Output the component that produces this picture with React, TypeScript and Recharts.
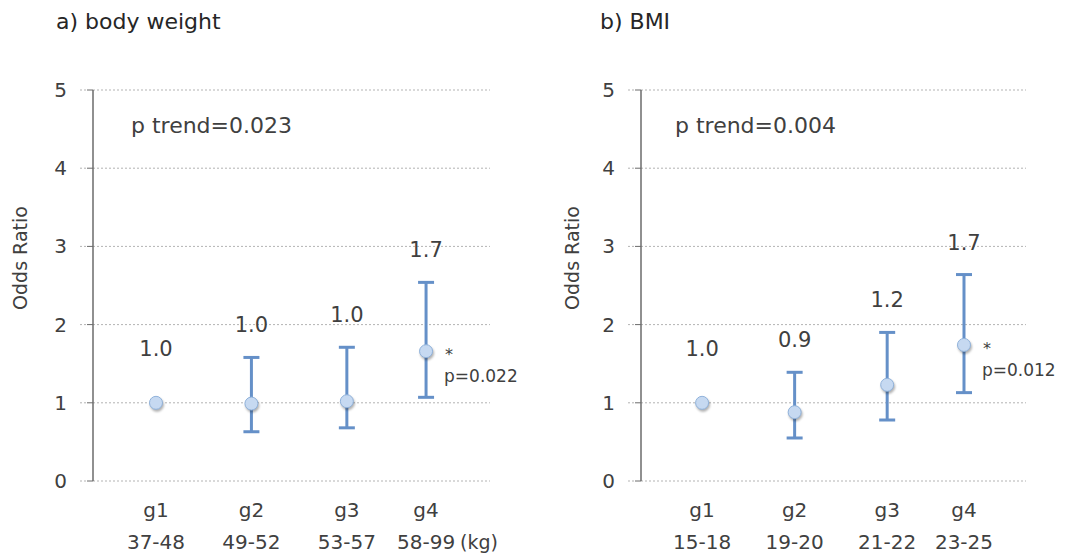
import { ComposedChart, Scatter, ErrorBar, XAxis, YAxis, CartesianGrid } from 'recharts';

const groups = ['g1', 'g2', 'g3', 'g4'];
const groupX = [1, 2, 3, 3.83];
const yTicks = [0, 1, 2, 3, 4, 5];

const weightRanges = ['37-48', '49-52', '53-57', '58-99'];
const weightOR = [1.0, 0.99, 1.02, 1.66];
const weightLow = [null, 0.63, 0.68, 1.07];
const weightHigh = [null, 1.58, 1.71, 2.54];
const weightLabels = ['1.0', '1.0', '1.0', '1.7'];
const weightP = [null, null, null, 'p=0.022'];

const bmiRanges = ['15-18', '19-20', '21-22', '23-25'];
const bmiOR = [1.0, 0.88, 1.23, 1.74];
const bmiLow = [null, 0.55, 0.78, 1.13];
const bmiHigh = [null, 1.39, 1.9, 2.64];
const bmiLabels = ['1.0', '0.9', '1.2', '1.7'];
const bmiP = [null, null, null, 'p=0.012'];

const FONT = '"DejaVu Sans", Verdana, sans-serif';
const TEXT = '#404040';
const BAR = '#6590c8';

function buildRows(or: number[], lo: (number | null)[], hi: (number | null)[], labels: string[], p: (string | null)[]) {
  return groupX.map((x, i) => ({
    x,
    or: or[i],
    top: hi[i] ?? or[i],
    hasCI: hi[i] != null,
    err: lo[i] != null && hi[i] != null ? [or[i] - (lo[i] as number), (hi[i] as number) - or[i]] : null,
    label: labels[i],
    p: p[i],
  }));
}

const Marker = (props: any) => {
  const { cx, cy, payload } = props;
  if (cx == null || cy == null) return null;
  return (
    <g>
      <circle cx={cx} cy={cy} r={6.5} fill="#c6d9f1" stroke="#8fb1da" strokeWidth={1}
        style={{ filter: 'drop-shadow(1px 2px 1px rgba(0,0,0,0.3))' }} />
      {payload.p && (
        <>
          <text x={cx + 23} y={cy + 9} fontSize={16} fill={TEXT} fontFamily={FONT} textAnchor="middle">*</text>
          <text x={cx + 18} y={cy + 31} fontSize={17} fill={TEXT} fontFamily={FONT}>{payload.p}</text>
        </>
      )}
    </g>
  );
};

const ValueLabel = (props: any) => {
  const { cx, cy, payload } = props;
  if (cx == null || cy == null) return null;
  const off = payload.hasCI ? 33 : 55;
  return (
    <text x={cx} y={cy - off + 8} fontSize={21} fill={TEXT} fontFamily={FONT} textAnchor="middle">
      {payload.label}
    </text>
  );
};

const YTick = ({ x, y, payload }: any) => (
  <g>
    <line x1={x + 13} x2={x + 20} y1={y} y2={y} stroke="#b3b3b3" strokeDasharray="2 2" />
    <text x={x} y={y + 7} fontSize={20} fill={TEXT} fontFamily={FONT} textAnchor="end">{payload.value}</text>
  </g>
);

function makeXTick(ranges: string[], unit?: string) {
  return ({ x, y, payload }: any) => {
    const i = groupX.indexOf(payload.value);
    return (
      <g>
        <text x={x} y={y + 36} fontSize={20} fill={TEXT} fontFamily={FONT} textAnchor="middle">{groups[i]}</text>
        <text x={x} y={y + 68} fontSize={20} fill={TEXT} fontFamily={FONT} textAnchor="middle">{ranges[i]}</text>
        {unit && i === groups.length - 1 && (
          <text x={x + 34} y={y + 68} fontSize={19} fill={TEXT} fontFamily={FONT}>{unit}</text>
        )}
      </g>
    );
  };
}

function OddsPanel({ rows, ranges, unit, width, marginLeft, marginRight }: any) {
  return (
    <ComposedChart width={width} height={555} data={rows} style={{ overflow: 'visible' }}
      margin={{ top: 90, bottom: 0, left: marginLeft, right: marginRight }}>
      <CartesianGrid vertical={false} stroke="#b3b3b3" strokeDasharray="2 2" />
      <XAxis dataKey="x" type="number" domain={[0.34, 4.5]} ticks={groupX}
        axisLine={false} tickLine={false} tickSize={0} tickMargin={0} height={74}
        tick={makeXTick(ranges, unit)} interval={0} />
      <YAxis type="number" domain={[0, 5]} ticks={yTicks} width={60} tickSize={6} tickMargin={20}
        axisLine={{ stroke: '#6b6b6b', strokeWidth: 1.5 }} tickLine={{ stroke: '#6b6b6b' }}
        tick={<YTick />} interval={0} />
      <Scatter dataKey="or" shape={<Marker />} isAnimationActive={false}>
        <ErrorBar dataKey="err" direction="y" width={8} strokeWidth={3} stroke={BAR} isAnimationActive={false} />
      </Scatter>
      <Scatter dataKey="top" shape={<ValueLabel />} isAnimationActive={false} />
    </ComposedChart>
  );
}

const abs = (left: number, top: number, size: number, extra: any = {}) => ({
  position: 'absolute' as const, left, top, fontSize: size, fontFamily: FONT, color: TEXT,
  whiteSpace: 'nowrap' as const, lineHeight: 1, ...extra,
});

export default function App() {
  const weightRows = buildRows(weightOR, weightLow, weightHigh, weightLabels, weightP);
  const bmiRows = buildRows(bmiOR, bmiLow, bmiHigh, bmiLabels, bmiP);
  return (
    <div style={{ position: 'absolute', left: 0, top: 0, width: 1067, height: 555, background: '#fff', overflow: 'hidden' }}>
      <div style={{ position: 'absolute', left: 0, top: 0 }}>
        <OddsPanel rows={weightRows} ranges={weightRanges} unit="(kg)" width={533} marginLeft={33} marginRight={43} />
      </div>
      <div style={{ position: 'absolute', left: 533, top: 0 }}>
        <OddsPanel rows={bmiRows} ranges={bmiRanges} width={534} marginLeft={48} marginRight={41} />
      </div>
      <div style={abs(56, 11, 22, { color: '#262626' })}>a) body weight</div>
      <div style={abs(600, 11, 22, { color: '#262626' })}>b) BMI</div>
      <div style={abs(131, 115, 22)}>p trend=0.023</div>
      <div style={abs(675, 115, 22)}>p trend=0.004</div>
      <div style={abs(20, 258, 19, { transform: 'translate(-50%, -50%) rotate(-90deg)' })}>Odds Ratio</div>
      <div style={abs(572, 258, 19, { transform: 'translate(-50%, -50%) rotate(-90deg)' })}>Odds Ratio</div>
    </div>
  );
}
